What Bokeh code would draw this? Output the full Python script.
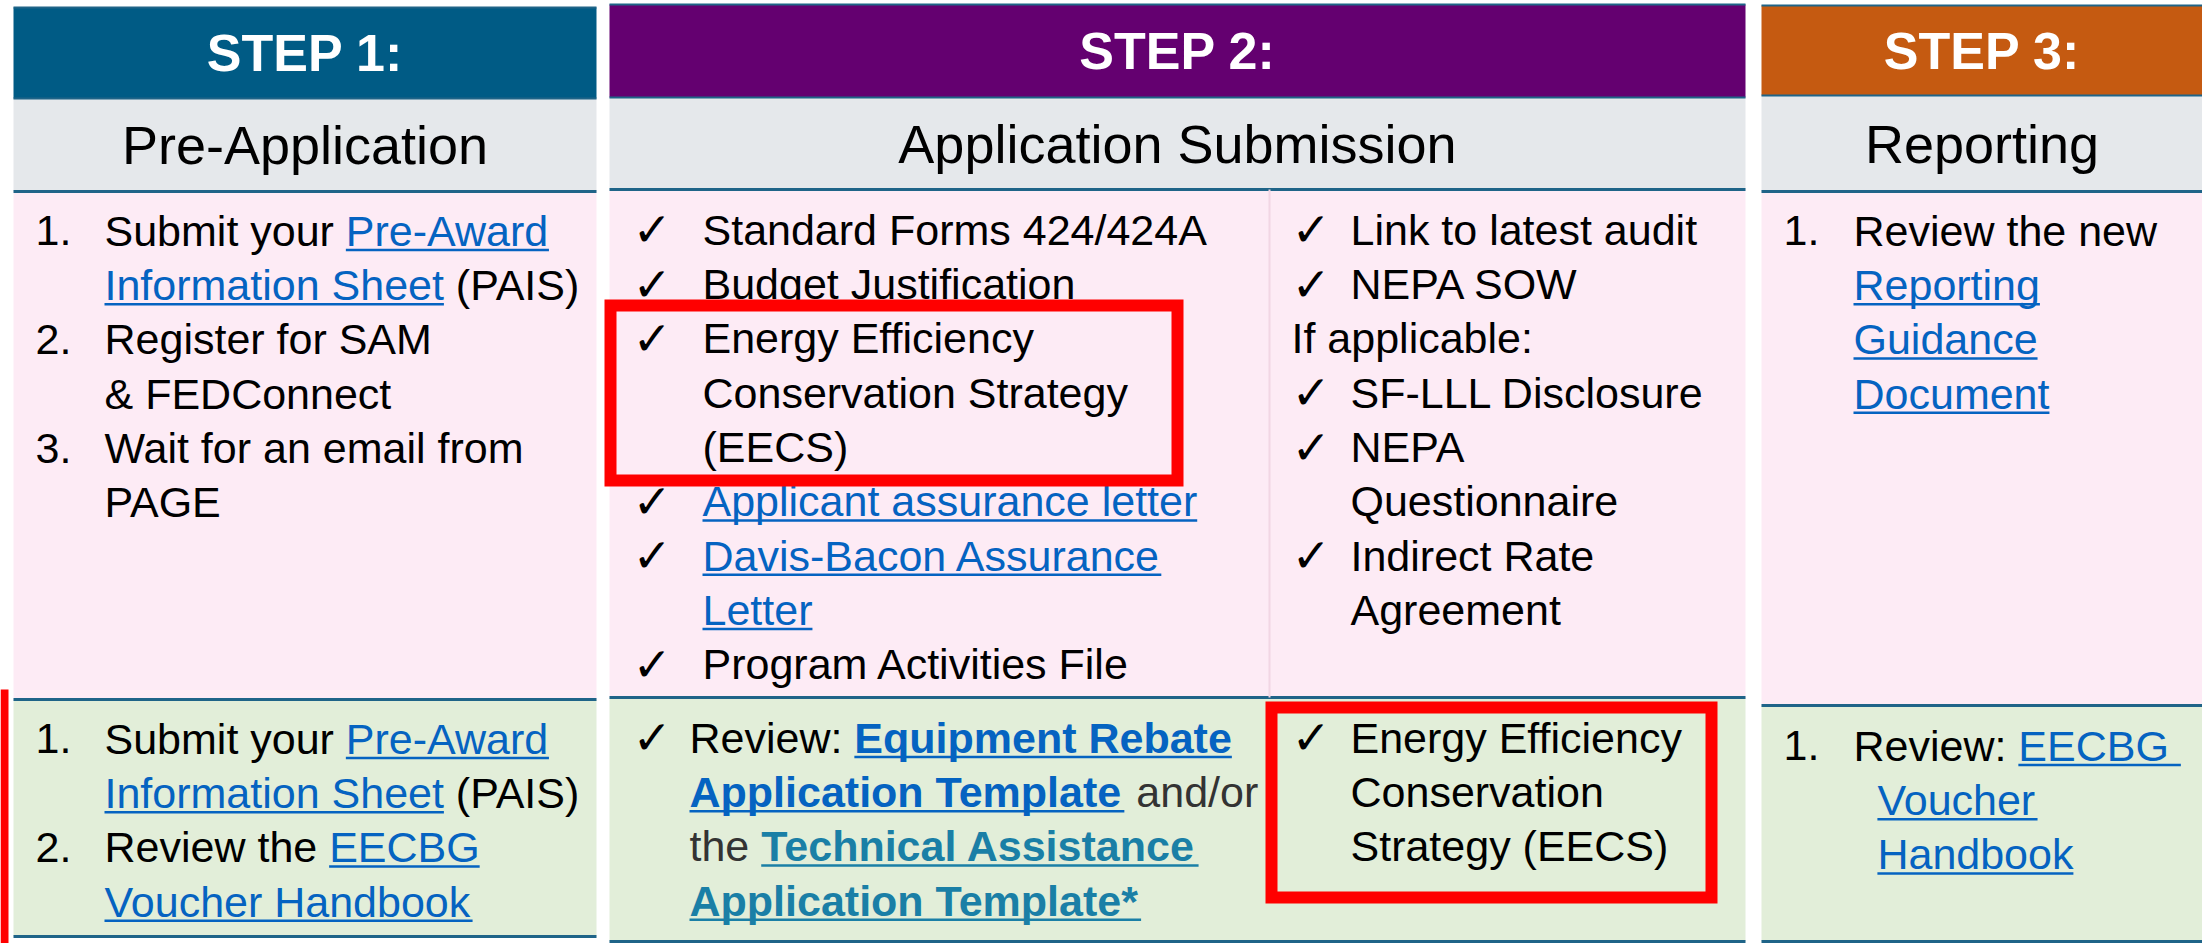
from bokeh.plotting import figure
from bokeh.models import Range1d
from bokeh.embed import file_html
from bokeh.resources import INLINE
from bokeh.core.properties import value

# ---------------- content ----------------
step_titles = ["STEP 1:", "STEP 2:", "STEP 3:"]
phase_titles = ["Pre-Application", "Application Submission", "Reporting"]
header_colors = ["#005B85", "#640070", "#C55A11"]

# each line: (marker, [(text, style), ...]); marker None -> text starts at the marker column
step1_top = [
    ("1.", [("Submit your ", "plain"), ("Pre-Award", "link")]),
    ("", [("Information Sheet", "link"), (" (PAIS)", "plain")]),
    ("2.", [("Register for SAM", "plain")]),
    ("", [("& FEDConnect", "plain")]),
    ("3.", [("Wait for an email from", "plain")]),
    ("", [("PAGE", "plain")]),
]
step1_bottom = [
    ("1.", [("Submit your ", "plain"), ("Pre-Award", "link")]),
    ("", [("Information Sheet", "link"), (" (PAIS)", "plain")]),
    ("2.", [("Review the ", "plain"), ("EECBG", "link")]),
    ("", [("Voucher Handbook", "link")]),
]
step2_top_left = [
    ("\u2713", [("Standard Forms 424/424A", "plain")]),
    ("\u2713", [("Budget Justification", "plain")]),
    ("\u2713", [("Energy Efficiency", "plain")]),
    ("", [("Conservation Strategy", "plain")]),
    ("", [("(EECS)", "plain")]),
    ("\u2713", [("Applicant assurance letter", "link")]),
    ("\u2713", [("Davis-Bacon Assurance", "link")]),
    ("", [("Letter", "link")]),
    ("\u2713", [("Program Activities File", "plain")]),
]
step2_top_right = [
    ("\u2713", [("Link to latest audit", "plain")]),
    ("\u2713", [("NEPA SOW", "plain")]),
    (None, [("If applicable:", "plain")]),
    ("\u2713", [("SF-LLL Disclosure", "plain")]),
    ("\u2713", [("NEPA", "plain")]),
    ("", [("Questionnaire", "plain")]),
    ("\u2713", [("Indirect Rate", "plain")]),
    ("", [("Agreement", "plain")]),
]
step2_bottom_left = [
    ("\u2713", [("Review: ", "plain"), ("Equipment Rebate", "bold_link")]),
    ("", [("Application Template", "bold_link"), (" and/or", "grey")]),
    ("", [("the ", "grey"), ("Technical Assistance", "teal_link")]),
    ("", [("Application Template*", "teal_link")]),
]
step2_bottom_right = [
    ("\u2713", [("Energy Efficiency", "plain")]),
    ("", [("Conservation", "plain")]),
    ("", [("Strategy (EECS)", "plain")]),
]
step3_top = [
    ("1.", [("Review the new", "plain")]),
    ("", [("Reporting", "link")]),
    ("", [("Guidance", "link")]),
    ("", [("Document", "link")]),
]
step3_bottom = [
    ("1.", [("Review: ", "plain"), ("EECBG ", "link")]),
    ("", [("  ", "plain"), ("Voucher", "link")]),
    ("", [("  ", "plain"), ("Handbook", "link")]),
]

# ---------------- layout (reference pixel space) ----------------
W_REF, H_REF = 2202, 943
FW, FH = 2202, 943
SX = FW / W_REF

col_x = [(13, 596), (609, 1745), (1761, 2202)]
head_y = [(7, 98), (4, 97), (5, 95)]
sub_bottom = [191, 189, 191]
mid_line = [699, 697, 705]
bot_line = [936, 941, 941]

BODY = 43.0
HEAD = 52.0
SUB = 54.0
LINE_H = 54.3
CAP = 0.716
SHIFT = 0.35          # rendering offset of the alphabetic baseline, in em

blocks = [
    (step1_top, 35, 104, 230),
    (step1_bottom, 35, 104, 738),
    (step2_top_left, 632, 702, 229),
    (step2_top_right, 1291, 1350, 229),
    (step2_bottom_left, 632, 689, 737),
    (step2_bottom_right, 1291, 1350, 737),
    (step3_top, 1783, 1853, 230),
    (step3_bottom, 1783, 1853, 745),
]

STYLES = {
    "plain": ("#000000", "normal", False),
    "link": ("#0563C1", "normal", True),
    "bold_link": ("#0563C1", "bold", True),
    "teal_link": ("#1A7FA6", "bold", True),
    "grey": ("#333333", "normal", False),
}

# Arial / Liberation Sans advance widths (1/1000 em)
_up = "ABCDEFGHIJKLMNOPQRSTUVWXYZ"
_lo = "abcdefghijklmnopqrstuvwxyz"
AR = dict(zip(_up, [667, 667, 722, 722, 667, 611, 778, 722, 278, 500, 667, 556, 833, 722, 778, 667, 778, 722, 667, 611, 722, 667, 944, 667, 667, 611]))
AR.update(zip(_lo, [556, 556, 500, 556, 556, 278, 556, 556, 222, 222, 500, 222, 833, 556, 556, 556, 556, 333, 500, 278, 556, 500, 722, 500, 500, 500]))
AR.update(zip(" ()*-./:&", [278, 333, 333, 389, 333, 278, 278, 278, 667]))
ARB = dict(zip(_up, [722, 722, 722, 722, 667, 611, 778, 722, 278, 556, 722, 611, 833, 722, 778, 667, 778, 722, 667, 611, 722, 667, 944, 667, 667, 611]))
ARB.update(zip(_lo, [556, 611, 556, 611, 556, 333, 611, 611, 278, 278, 556, 278, 889, 611, 611, 611, 611, 389, 556, 333, 611, 556, 778, 556, 556, 500]))
ARB.update(zip(" ()*-./:&", [278, 333, 333, 389, 333, 278, 278, 333, 722]))


def text_w(s, bold):
    tbl = ARB if bold else AR
    return sum(tbl.get(c, 556) for c in s) * BODY / 1000.0


FONT = "Liberation Sans"

p = figure(width=FW, height=FH, x_range=Range1d(0, W_REF), y_range=Range1d(H_REF, 0),
           output_backend="svg", toolbar_location=None, min_border=0,
           x_axis_location=None, y_axis_location=None)
p.grid.visible = False
p.outline_line_color = None
p.background_fill_color = "white"
p.border_fill_color = "white"

LINE_C = "#1F6488"
# panels
for i, ((x0, x1), (h0, h1)) in enumerate(zip(col_x, head_y)):
    p.quad(left=x0, right=x1, top=h0, bottom=h1, fill_color=header_colors[i], line_color=None)
    p.quad(left=x0, right=x1, top=h1, bottom=sub_bottom[i], fill_color="#E5E8EB", line_color=None)
    p.quad(left=x0, right=x1, top=sub_bottom[i], bottom=mid_line[i], fill_color="#FDEBF5", line_color=None)
    p.quad(left=x0, right=x1, top=mid_line[i], bottom=bot_line[i], fill_color="#E2EED9", line_color=None)
    for yy, lw in [(h0, 2), (h1, 2), (sub_bottom[i], 3), (mid_line[i], 3), (bot_line[i], 3)]:
        p.segment(x0=x0, x1=x1, y0=yy, y1=yy, line_color=LINE_C, line_width=lw)

# faint divider in step 2 body
p.segment(x0=1269, x1=1269, y0=sub_bottom[1], y1=mid_line[1], line_color="#F2D6E4", line_width=2)

# header texts
cx = [(a + b) / 2 for a, b in col_x]
p.text(x=cx, y=[(a + b) / 2 + CAP * HEAD / 2 - SHIFT * HEAD for a, b in head_y], text=step_titles,
       text_color="white", text_font=value(FONT), text_font_style="bold",
       text_font_size=f"{HEAD * SX:.1f}px", text_align="center", text_baseline="alphabetic")
p.text(x=cx, y=[(b + s) / 2 + CAP * SUB / 2 - SHIFT * SUB for (a, b), s in zip(head_y, sub_bottom)],
       text=phase_titles, text_color="black", text_font=value(FONT),
       text_font_size=f"{SUB * SX:.1f}px", text_align="center", text_baseline="alphabetic")

# body texts
segs = {k: dict(x=[], y=[], t=[]) for k in STYLES}
unders = dict(x0=[], x1=[], y=[], c=[])
marks = dict(x=[], y=[], t=[])
checks = dict(x=[], y=[])
for lines, mx, tx, c0 in blocks:
    for j, (marker, parts) in enumerate(lines):
        base = c0 + j * LINE_H + CAP * BODY / 2       # true baseline
        ty = base - SHIFT * BODY                        # anchor for rendering
        if marker == "\u2713":
            checks["x"].append(mx); checks["y"].append(ty)
        elif marker:
            marks["x"].append(mx); marks["y"].append(ty); marks["t"].append(marker)
        x = mx if marker is None else tx
        for txt, st in parts:
            col, fs, ul = STYLES[st]
            bold = fs == "bold"
            lead = len(txt) - len(txt.lstrip(" "))
            xs = x + text_w(txt[:lead], bold)
            body = txt.lstrip(" ")
            if body.strip():
                segs[st]["x"].append(xs); segs[st]["y"].append(ty); segs[st]["t"].append(body)
            w = text_w(txt, bold)
            if ul:
                unders["x0"].append(xs); unders["x1"].append(x + w)
                unders["y"].append(base + 4); unders["c"].append(col)
            x += w

for st, d in segs.items():
    if not d["t"]:
        continue
    col, fs, ul = STYLES[st]
    p.text(x=d["x"], y=d["y"], text=d["t"], text_color=col, text_font=value(FONT),
           text_font_style=fs, text_font_size=f"{BODY * SX:.1f}px",
           text_align="left", text_baseline="alphabetic")
p.text(x=marks["x"], y=marks["y"], text=marks["t"], text_color="black", text_font=value(FONT),
       text_font_size=f"{BODY * SX:.1f}px", text_align="left", text_baseline="alphabetic")
p.text(x=checks["x"], y=checks["y"], text=["\u2713"] * len(checks["x"]), text_color="black",
       text_font=value("DejaVu Sans"), text_font_size=f"{47 * SX:.1f}px",
       text_align="left", text_baseline="alphabetic")
p.segment(x0=unders["x0"], x1=unders["x1"], y0=unders["y"], y1=unders["y"],
          line_color=unders["c"], line_width=2.5)

# red highlight marks
RED = "#FF0000"
p.quad(left=0, right=8, top=689, bottom=943, fill_color=RED, line_color=None)
p.quad(left=[610, 1271], right=[1177, 1711], top=[305, 707], bottom=[480, 897],
       fill_alpha=0, line_color=RED, line_width=12, line_join="miter")

open("out.html", "w").write(file_html(p, INLINE))
